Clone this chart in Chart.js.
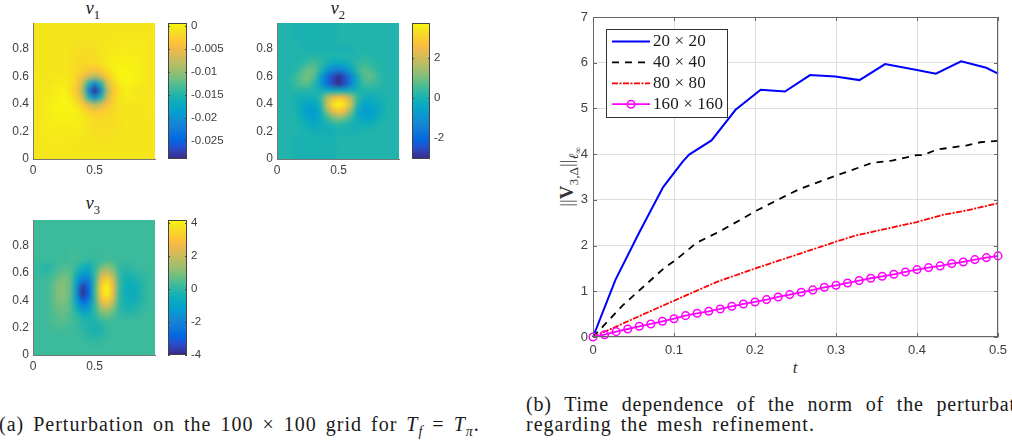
<!DOCTYPE html>
<html>
<head>
<meta charset="utf-8">
<title>Perturbation</title>
<script src="https://cdn.jsdelivr.net/npm/chart.js@4"></script>
<style>
  html, body { margin: 0; padding: 0; background: #fff; }
  #page { position: relative; width: 1012px; height: 441px; overflow: hidden; background: #fff; }
  canvas { position: absolute; }
  .math, .cap { position: absolute; font-family: "Liberation Serif", serif; color: #1a1a1a; white-space: nowrap; }
  .math sub { font-size: 70%; line-height: 0; }
  .title { font-size: 18px; transform: translateX(-50%); }
  .cap { font-size: 20px; }
  #ylab { font-size: 19px; transform: translate(-50%, -50%) rotate(-90deg); color: #333; }
  #xlab { font-size: 17px; transform: translateX(-50%); color: #333; }
</style>
</head>
<body>
<div id="page">
  <div class="math title" style="left:93px;top:-2px"><i>v</i><sub>1</sub></div>
  <div class="math title" style="left:338px;top:-2px"><i>v</i><sub>2</sub></div>
  <div class="math title" style="left:93px;top:193px"><i>v</i><sub>3</sub></div>
  <div class="math" id="ylab" style="left:567px;top:177px">||<b>V</b><sub>3,Δ</sub>||<sub><i>ℓ</i><sub>∞</sub></sub></div>
  <div class="math" id="xlab" style="left:795px;top:358px"><i>t</i></div>
  <div class="cap" style="left:-1px;top:413px;letter-spacing:1px;word-spacing:3px">(a) Perturbation on the 100 × 100 grid for <i>T<sub style="font-size:70%;line-height:0">f</sub></i> = <i>T<sub style="font-size:70%;line-height:0">π</sub></i>.</div>
  <div class="cap" style="left:526px;top:393px;letter-spacing:0.8px;word-spacing:7px">(b) Time dependence of the norm of the perturbation</div>
  <div class="cap" style="left:526px;top:413px;letter-spacing:1px;word-spacing:3px">regarding the mesh refinement.</div>
</div>

<script>
// ─── LINE CHART DATA ─────────────────────────────────────────
const tBlue = [0, 0.0157, 0.0277, 0.0569, 0.0866, 0.1105, 0.1187, 0.1463, 0.176, 0.207, 0.237, 0.268, 0.299, 0.329, 0.3606, 0.3998, 0.4233, 0.4545, 0.4855, 0.5];
const vBlue = [0, 0.71, 1.25, 2.28, 3.28, 3.83, 3.99, 4.30, 4.97, 5.41, 5.37, 5.73, 5.70, 5.62, 5.97, 5.84, 5.76, 6.03, 5.89, 5.76];
const tBlack = [0, 0.0363, 0.0886, 0.101, 0.1278, 0.1566, 0.204, 0.241, 0.2555, 0.3008, 0.344, 0.369, 0.3998, 0.408, 0.4245, 0.4616, 0.478, 0.5];
const vBlack = [0, 0.685, 1.52, 1.67, 2.06, 2.31, 2.785, 3.115, 3.24, 3.535, 3.805, 3.86, 3.98, 3.98, 4.10, 4.19, 4.26, 4.29];
const tRed = [0, 0.05, 0.1, 0.1545, 0.202, 0.243, 0.3008, 0.3236, 0.3998, 0.4327, 0.4616, 0.5];
const vRed = [0, 0.40, 0.794, 1.217, 1.51, 1.75, 2.09, 2.217, 2.515, 2.676, 2.77, 2.925];
const tMagenta = [0, 0.0143, 0.0286, 0.0429, 0.0571, 0.0714, 0.0857, 0.1, 0.1143, 0.1286, 0.1429, 0.1571, 0.1714, 0.1857, 0.2, 0.2143, 0.2286, 0.2429, 0.2571, 0.2714, 0.2857, 0.3, 0.3143, 0.3286, 0.3429, 0.3571, 0.3714, 0.3857, 0.4, 0.4143, 0.4286, 0.4429, 0.4571, 0.4714, 0.4857, 0.5];
const vMagenta = [0, 0.05, 0.117, 0.175, 0.234, 0.285, 0.343, 0.40, 0.467, 0.518, 0.562, 0.613, 0.672, 0.723, 0.766, 0.818, 0.876, 0.927, 0.978, 1.03, 1.088, 1.131, 1.182, 1.234, 1.285, 1.328, 1.372, 1.423, 1.474, 1.518, 1.555, 1.606, 1.642, 1.693, 1.737, 1.774];
const lineNames = ['20 × 20', '40 × 40', '80 × 80', '160 × 160'];
const tTicks = [0, 0.1, 0.2, 0.3, 0.4, 0.5];
const normTicks = [0, 1, 2, 3, 4, 5, 6, 7];

// ─── HEATMAP DATA (rows run from y = 1 down to y = 0) ────────
const gridX = [0, 0.05, 0.1, 0.15, 0.2, 0.25, 0.3, 0.35, 0.4, 0.45, 0.5, 0.55, 0.6, 0.65, 0.7, 0.75, 0.8, 0.85, 0.9, 0.95, 1];
const gridY = [1, 0.95, 0.9, 0.85, 0.8, 0.75, 0.7, 0.65, 0.6, 0.55, 0.5, 0.45, 0.4, 0.35, 0.3, 0.25, 0.2, 0.15, 0.1, 0.05, 0];
const heatXTicks = [0, 0.5];
const heatYTicks = [0, 0.2, 0.4, 0.6, 0.8];

// v1 is listed in units of 1e-3
const v1Rows = [
  [-.7,-.7,-.7,-.7,-.7,-.7,-.7,-.7,-.7,-.7,-.7,-.7,-.7,-.7,-.7,-.7,-.7,-.7,-.7,-.7,-.7],
  [-.7,-.7,-.7,-.7,-.7,-.7,-.7,-.7,-.7,-.7,-.7,-.7,-.7,-.7,-.7,-.7,-.7,-.7,-.7,-.7,-.7],
  [-.7,-.7,-.7,-.7,-.7,-.7,-.7,-.7,-.8,-.8,-.7,-.7,-.7,-.7,-.6,-.6,-.6,-.6,-.6,-.6,-.7],
  [-.7,-.7,-.7,-.7,-.7,-.7,-.8,-1.0,-1.1,-1.1,-1.0,-.8,-.7,-.6,-.5,-.5,-.5,-.5,-.5,-.6,-.7],
  [-.7,-.7,-.7,-.7,-.7,-.7,-.9,-1.2,-1.3,-1.3,-1.2,-.8,-.6,-.5,-.4,-.4,-.4,-.4,-.5,-.6,-.7],
  [-.7,-.7,-.7,-.7,-.7,-.7,-1.0,-1.4,-1.5,-1.5,-1.4,-.9,-.5,-.3,-.2,-.2,-.2,-.3,-.5,-.6,-.7],
  [-.6,-.7,-.7,-.7,-.7,-.7,-1.0,-1.5,-1.7,-1.8,-1.8,-1.0,-.4,-.1,0,0,0,-.2,-.4,-.6,-.7],
  [-.5,-.6,-.7,-.7,-.7,-.7,-.9,-1.6,-2.4,-3.2,-3.5,-2.7,-1.3,-.1,.2,.2,.1,-.1,-.4,-.6,-.7],
  [-.5,-.6,-.7,-.7,-.6,-.6,-.8,-2.4,-4.2,-7.0,-9.0,-6.5,-3.2,-1.0,.2,.3,.2,-.1,-.4,-.6,-.7],
  [-.5,-.6,-.7,-.6,-.4,-.3,-.7,-2.8,-7.0,-15,-21,-15,-6.5,-2.2,-.4,.2,0,-.3,-.5,-.6,-.7],
  [-.6,-.7,-.6,-.4,0,.1,-1.1,-3.5,-9.0,-21,-28.5,-21,-9.0,-3.5,-1.1,-.2,-.4,-.6,-.7,-.7,-.6],
  [-.7,-.6,-.5,-.3,0,.2,-.4,-2.2,-6.5,-15,-21,-15,-7.0,-2.8,-.7,-.3,-.4,-.6,-.7,-.6,-.5],
  [-.7,-.6,-.4,-.1,.2,.3,.2,-1.0,-3.2,-6.5,-9.0,-7.0,-4.2,-2.4,-.8,-.6,-.6,-.7,-.7,-.6,-.5],
  [-.7,-.6,-.4,-.1,.1,.2,.2,-.1,-1.3,-2.7,-3.5,-3.2,-2.4,-1.6,-.9,-.7,-.7,-.7,-.7,-.6,-.5],
  [-.7,-.6,-.4,-.2,0,0,0,-.1,-.4,-1.0,-1.8,-1.8,-1.7,-1.5,-1.0,-.7,-.7,-.7,-.7,-.7,-.6],
  [-.7,-.6,-.5,-.3,-.2,-.2,-.2,-.3,-.5,-.9,-1.4,-1.5,-1.5,-1.4,-1.0,-.7,-.7,-.7,-.7,-.7,-.7],
  [-.7,-.6,-.5,-.4,-.4,-.4,-.4,-.5,-.6,-.8,-1.2,-1.3,-1.3,-1.2,-.9,-.7,-.7,-.7,-.7,-.7,-.7],
  [-.7,-.6,-.5,-.5,-.5,-.5,-.5,-.6,-.7,-.8,-1.0,-1.1,-1.1,-1.0,-.8,-.7,-.7,-.7,-.7,-.7,-.7],
  [-.7,-.6,-.6,-.6,-.6,-.6,-.6,-.7,-.7,-.7,-.7,-.8,-.8,-.7,-.7,-.7,-.7,-.7,-.7,-.7,-.7],
  [-.7,-.7,-.7,-.7,-.7,-.7,-.7,-.7,-.7,-.7,-.7,-.7,-.7,-.7,-.7,-.7,-.7,-.7,-.7,-.7,-.7],
  [-.7,-.7,-.7,-.7,-.7,-.7,-.7,-.7,-.7,-.7,-.7,-.7,-.7,-.7,-.7,-.7,-.7,-.7,-.7,-.7,-.7]
];
const v2Rows = [
  [.1,.1,.1,0,0,0,0,0,0,0,.1,.1,.1,.1,.1,.1,.1,.1,.1,.1,.1],
  [.1,.1,.1,0,0,0,0,0,0,0,.1,.1,.1,.1,.1,.1,.1,.1,.1,.1,.1],
  [.1,.1,.1,0,0,0,0,0,0,0,.1,.1,.1,.1,.1,.1,.1,.1,.1,.1,.1],
  [.1,.1,.1,.1,0,0,0,0,0,0,.1,.1,.1,.1,.1,.1,.1,.1,.1,.1,.1],
  [.1,.1,.1,.1,.1,0,0,0,0,0,0,0,0,.1,.1,.1,.1,.1,.1,.1,.1],
  [.1,.1,.1,.1,.1,.1,.2,.2,.1,.1,.1,.1,.1,.1,.2,.2,.1,.1,.1,.1,.1],
  [.1,.1,.1,.1,.2,.4,.5,.3,0,-.3,-.3,-.3,0,.3,.4,.3,.2,.1,.1,.1,.1],
  [.1,.1,.1,.2,.5,.9,.8,.2,-.8,-1.3,-1.5,-1.2,-.5,.3,.7,.6,.3,.1,.1,.1,.1],
  [.1,.1,.1,.4,.8,1.0,.6,-.6,-1.8,-2.6,-3.0,-2.5,-1.4,-.2,.6,.8,.5,.2,.1,.1,.1],
  [.1,.1,.2,.4,.7,.7,.2,-.7,-1.8,-2.6,-3.0,-2.5,-1.4,-.3,.4,.5,.4,.2,.1,.1,.1],
  [.1,.1,.1,.2,.2,.1,.1,-.1,-.2,-.3,-.3,-.3,-.1,0,.1,.1,.1,.1,.1,.1,.1],
  [.1,.1,.1,0,-.1,-.1,-.1,.3,1.4,2.3,2.6,2.4,1.5,.4,-.1,-.2,-.1,0,.1,.1,.1],
  [.1,.1,.1,0,-.3,-.5,-.5,.1,1.8,3.3,3.7,3.3,2.0,.2,-.5,-.5,-.3,-.1,.1,.1,.1],
  [.1,.1,.1,0,-.4,-.8,-.8,-.3,1.1,2.4,2.8,2.4,1.1,-.3,-.8,-.8,-.5,-.1,.1,.1,.1],
  [.1,.1,.1,.1,-.2,-.5,-.7,-.3,.3,.9,1.2,.9,.3,-.2,-.5,-.5,-.3,0,.1,.1,.1],
  [.1,.1,.1,.1,0,-.2,-.3,-.2,-.1,.1,.2,.1,0,-.1,-.1,-.1,0,.1,.1,.1,.1],
  [.1,.1,.1,.1,0,0,-.1,-.1,-.1,-.1,0,0,0,0,.1,.1,.1,.1,.1,.1,.1],
  [.1,.1,.1,0,0,0,0,0,0,0,.1,.1,.1,.1,.1,.1,.1,.1,.1,.1,.1],
  [.1,.1,.1,0,0,0,0,0,0,0,.1,.1,.1,.1,.1,.1,.1,.1,.1,.1,.1],
  [.1,.1,.1,0,0,0,0,0,0,0,.1,.1,.1,.1,.1,.1,.1,.1,.1,.1,.1],
  [.1,.1,.1,0,0,0,0,0,0,0,.1,.1,.1,.1,.1,.1,.1,.1,.1,.1,.1]
];
const v3Rows = [
  [.2,.2,.2,.2,.2,.2,.2,.2,.2,.2,.2,.2,.2,.2,.2,.2,.2,.2,.2,.2,.2],
  [.2,.2,.2,.2,.2,.2,.2,.2,.2,.2,.2,.2,.2,.2,.2,.2,.2,.2,.2,.2,.2],
  [.2,.2,.2,.2,.2,.2,.2,.2,.2,.2,.2,.2,.2,.2,.2,.2,.2,.2,.2,.2,.2],
  [.2,.2,.2,.2,.2,.2,.2,.2,.2,.2,.2,.2,.2,.2,.2,.2,.2,.2,.2,.2,.2],
  [.2,.2,.2,.2,.2,.2,.2,.2,.2,.2,.2,.2,.2,.2,.2,.2,.2,.2,.2,.2,.2],
  [.2,.2,.2,.2,.2,.2,.3,.3,.2,.2,.2,.2,.3,.2,.2,.2,.2,.2,.2,.2,.2],
  [.2,.2,.2,.2,.2,.2,.3,.3,.2,.1,.1,.2,.3,.3,.2,.2,.2,.2,.2,.2,.2],
  [.2,.1,-.1,0,.3,.4,.4,.1,-.4,-.6,0,.7,1.1,.7,.1,0,.1,.2,.2,.2,.2],
  [.2,.1,0,.2,.5,.7,.6,-.3,-1.2,-1.3,.1,1.7,2.2,1.4,.1,-.2,-.1,0,.1,.2,.2],
  [.2,.2,.2,.4,.8,1.0,.7,-.9,-2.3,-2.2,.1,2.7,3.5,2.3,.2,-.4,-.4,-.2,0,.2,.2],
  [.2,.2,.2,.5,1.0,1.1,.7,-1.3,-3.7,-2.7,.2,3.3,4.1,2.6,.2,-.5,-.6,-.4,0,.2,.2],
  [.2,.2,.2,.5,1.0,1.1,.6,-1.4,-3.9,-2.8,.2,3.2,4.1,2.5,.1,-.5,-.6,-.4,0,.2,.2],
  [.2,.2,.2,.5,.9,1.0,.5,-1.1,-2.9,-2.2,.1,2.6,3.2,2.0,.1,-.4,-.5,-.3,0,.2,.2],
  [.2,.2,.2,.4,.8,.8,.5,-.5,-1.6,-1.3,.1,1.5,2.0,1.1,0,-.3,-.3,-.1,.1,.2,.2],
  [.2,.2,.2,.4,.6,.7,.4,0,-.6,-.5,0,.7,.9,.5,.1,0,0,.1,.2,.2,.2],
  [.2,.2,.2,.4,.5,.5,.4,.2,-.1,-.2,-.2,.1,.3,.2,.2,.2,.2,.2,.2,.2,.2],
  [.2,.2,.2,.3,.4,.3,.3,.2,0,-.2,-.3,-.2,.1,.2,.2,.2,.2,.2,.2,.2,.2],
  [.2,.2,.2,.2,.2,.2,.2,.2,.1,-.1,-.2,-.1,.1,.2,.2,.2,.2,.2,.2,.2,.2],
  [.2,.2,.2,.2,.2,.2,.2,.2,.2,.1,.1,.1,.2,.2,.2,.2,.2,.2,.2,.2,.2],
  [.2,.2,.2,.2,.2,.2,.2,.2,.2,.2,.2,.2,.2,.2,.2,.2,.2,.2,.2,.2,.2],
  [.2,.2,.2,.2,.2,.2,.2,.2,.2,.2,.2,.2,.2,.2,.2,.2,.2,.2,.2,.2,.2]
];

// colour limits and colourbar ticks
const v1Range = [-0.0289, 0.0006];
const v2Range = [-3.07, 3.73];
const v3Range = [-4.0, 4.2];
const v1BarTicks = [0, -0.005, -0.01, -0.015, -0.02, -0.025];
const v2BarTicks = [2, 0, -2];
const v3BarTicks = [4, 2, 0, -2, -4];

// ─── PARULA ──────────────────────────────────────────────────
const parula = [[53,42,135],[53,61,173],[32,83,212],[2,104,225],[13,117,220],[20,129,214],[16,142,210],[7,156,207],[6,167,198],[15,174,185],[37,181,169],[66,187,152],[101,190,134],[135,191,119],[165,190,107],[192,188,96],[217,186,86],[241,185,74],[255,195,55],[250,211,42],[245,228,29],[249,251,14]];

function parulaAt(f) {
    const p = Math.min(Math.max(f, 0), 1) * (parula.length - 1);
    const i = Math.min(Math.floor(p), parula.length - 2);
    const k = p - i;
    return parula[i].map((c, n) => Math.round(c + (parula[i + 1][n] - c) * k));
}

// ─── PLUGINS ─────────────────────────────────────────────────
// paints the cells of dataset 0 as one smoothed image placed by the chart's scales
const heatLayer = {
    id: 'heatLayer',
    beforeDatasetsDraw(chart, args, opts) {
        if (!opts.range) return;
        const cols = gridX.length, rows = gridY.length;
        const off = document.createElement('canvas');
        off.width = cols; off.height = rows;
        const octx = off.getContext('2d');
        const img = octx.createImageData(cols, rows);
        chart.data.datasets[0].data.forEach((cell, i) => {
            const rgb = parulaAt((cell.v - opts.range[0]) / (opts.range[1] - opts.range[0]));
            img.data.set([rgb[0], rgb[1], rgb[2], 255], i * 4);
        });
        octx.putImageData(img, 0, 0);
        const { x, y } = chart.scales, a = chart.chartArea, half = 0.025;
        const ctx = chart.ctx;
        ctx.save();
        ctx.beginPath();
        ctx.rect(a.left, a.top, a.right - a.left, a.bottom - a.top);
        ctx.clip();
        ctx.imageSmoothingEnabled = true;
        ctx.imageSmoothingQuality = 'low';
        const x0 = x.getPixelForValue(gridX[0] - half), x1 = x.getPixelForValue(gridX[cols - 1] + half);
        const y0 = y.getPixelForValue(gridY[0] + half), y1 = y.getPixelForValue(gridY[rows - 1] - half);
        // plain pass underneath so the blurred pass has no pale rim
        ctx.drawImage(off, x0, y0, x1 - x0, y1 - y0);
        ctx.filter = 'blur(1.3px)';
        ctx.drawImage(off, x0, y0, x1 - x0, y1 - y0);
        ctx.restore();
    }
};

// axes box with small inward ticks
const frameBox = {
    id: 'frameBox',
    afterDatasetsDraw(chart, args, opts) {
        if (!opts.color) return;
        const ctx = chart.ctx, a = chart.chartArea, len = opts.tick;
        ctx.save();
        ctx.strokeStyle = opts.color;
        ctx.lineWidth = 1;
        ctx.strokeRect(Math.round(a.left) + .5, Math.round(a.top) + .5, Math.round(a.right - a.left) - 1, Math.round(a.bottom - a.top) - 1);
        ctx.beginPath();
        chart.scales.y.ticks.forEach(t => {
            const py = Math.round(chart.scales.y.getPixelForValue(t.value)) + .5;
            ctx.moveTo(a.left, py); ctx.lineTo(a.left + len, py);
            ctx.moveTo(a.right, py); ctx.lineTo(a.right - len, py);
        });
        if (chart.scales.x.type === 'linear') {
            chart.scales.x.ticks.forEach(t => {
                const px = Math.round(chart.scales.x.getPixelForValue(t.value)) + .5;
                ctx.moveTo(px, a.top); ctx.lineTo(px, a.top + len);
                ctx.moveTo(px, a.bottom); ctx.lineTo(px, a.bottom - len);
            });
        }
        ctx.stroke();
        ctx.restore();
    }
};

// legend box inside the axes
const insideLegend = {
    id: 'insideLegend',
    afterDatasetsDraw(chart, args, opts) {
        if (!opts.box) return;
        const ctx = chart.ctx, b = opts.box;
        ctx.save();
        ctx.fillStyle = '#fff';
        ctx.strokeStyle = '#333';
        ctx.lineWidth = 1;
        ctx.fillRect(b.x, b.y, b.w, b.h);
        ctx.strokeRect(b.x + .5, b.y + .5, b.w, b.h);
        ctx.font = opts.font;
        ctx.textBaseline = 'middle';
        chart.data.datasets.forEach((ds, i) => {
            const py = b.y + opts.first + i * opts.step;
            ctx.beginPath();
            ctx.strokeStyle = ds.borderColor;
            ctx.lineWidth = ds.borderWidth;
            ctx.setLineDash(ds.borderDash || []);
            ctx.moveTo(b.x + 6, py);
            ctx.lineTo(b.x + 44, py);
            ctx.stroke();
            ctx.setLineDash([]);
            if (ds.pointRadius) {
                ctx.beginPath();
                ctx.lineWidth = ds.pointBorderWidth;
                ctx.arc(b.x + 25, py, ds.pointRadius, 0, Math.PI * 2);
                ctx.stroke();
            }
            ctx.fillStyle = '#1a1a1a';
            ctx.letterSpacing = opts.spacing;
            ctx.fillText(ds.label, b.x + 47, py + 0.5);
        });
        ctx.restore();
    }
};
Chart.register(heatLayer, frameBox, insideLegend);

// ─── HELPERS ─────────────────────────────────────────────────
const tickColor = '#404040';

function mount(area, pad) {
    const c = document.createElement('canvas');
    c.width = area.w + pad.l + pad.r;
    c.height = area.h + pad.t + pad.b;
    c.style.left = (area.x - pad.l) + 'px';
    c.style.top = (area.y - pad.t) + 'px';
    c.style.width = c.width + 'px';
    c.style.height = c.height + 'px';
    document.getElementById('page').appendChild(c);
    return c;
}

function fixedAxis(values, size, font, pad, extra) {
    return Object.assign({
        type: 'linear',
        afterBuildTicks: s => { s.ticks = values.map(v => ({ value: v })); },
        afterFit: s => {
            if (s.isHorizontal()) s.height = size; else s.width = size;
            s.paddingTop = s.paddingBottom = s.paddingLeft = s.paddingRight = 0;
        },
        grid: { display: false, drawTicks: false },
        border: { display: false },
        ticks: { color: tickColor, font: { family: 'Liberation Sans', size: font }, padding: pad, maxRotation: 0, autoSkip: false, callback: v => String(v) }
    }, extra);
}

function drawHeat(area, rows, range, scaleBy) {
    const pad = { l: 30, r: 8, t: 2, b: 20 };
    const cells = [];
    gridY.forEach((y, r) => gridX.forEach((x, c) => cells.push({ x, y, v: rows[r][c] * scaleBy })));
    const edge = { display: true, color: '#777', width: 1, z: 1 };
    new Chart(mount(area, pad), {
        type: 'scatter',
        data: { datasets: [{ data: cells, pointRadius: 0 }] },
        options: {
            responsive: false, animation: false, events: [],
            layout: { padding: { top: pad.t, right: pad.r } },
            plugins: { legend: { display: false }, tooltip: { enabled: false }, heatLayer: { range } },
            scales: {
                x: fixedAxis(heatXTicks, pad.b, 12, 4, { min: 0, max: 0.99, border: edge }),
                y: fixedAxis(heatYTicks, pad.l, 12, 4, { min: 0, max: 0.99, border: edge })
            }
        }
    });
}

function drawBar(area, range, ticks, labelWidth) {
    const pad = { l: 0, r: labelWidth, t: 8, b: 8 };
    new Chart(mount(area, pad), {
        type: 'bar',
        data: {
            labels: [''],
            datasets: [{
                data: [range],
                barPercentage: 1,
                categoryPercentage: 1,
                backgroundColor: ctx => {
                    const { chart } = ctx;
                    if (!chart.chartArea) return '#000';
                    const y = chart.scales.y;
                    const g = chart.ctx.createLinearGradient(0, y.getPixelForValue(range[0]), 0, y.getPixelForValue(range[1]));
                    parula.forEach((c, i) => g.addColorStop(i / (parula.length - 1), `rgb(${c})`));
                    return g;
                }
            }]
        },
        options: {
            responsive: false, animation: false, events: [],
            layout: { padding: { top: pad.t, bottom: pad.b } },
            plugins: { legend: { display: false }, tooltip: { enabled: false }, frameBox: { color: '#444', tick: 2 } },
            scales: {
                x: { display: false },
                y: fixedAxis(ticks, pad.r, 11.5, 4, { position: 'right', min: range[0], max: range[1] })
            }
        }
    });
}

function toPoints(ts, vs) { return ts.map((t, i) => ({ x: t, y: vs[i] })); }

// ─── CHARTS ──────────────────────────────────────────────────
drawHeat({ x: 33, y: 23, w: 122, h: 136 }, v1Rows, v1Range, 0.001);
drawHeat({ x: 277, y: 23, w: 122, h: 136 }, v2Rows, v2Range, 1);
drawHeat({ x: 33, y: 220, w: 122, h: 135 }, v3Rows, v3Range, 1);
drawBar({ x: 168, y: 23, w: 19, h: 136 }, v1Range, v1BarTicks, 46);
drawBar({ x: 412, y: 23, w: 18, h: 136 }, v2Range, v2BarTicks, 30);
drawBar({ x: 168, y: 220, w: 19, h: 135 }, v3Range, v3BarTicks, 30);

const gridStyle = { display: true, color: '#dedede', lineWidth: 1, drawTicks: false };
const linePad = { l: 40, r: 14, t: 8, b: 24 };
new Chart(mount({ x: 593, y: 17, w: 405, h: 320 }, linePad), {
    type: 'scatter',
    data: {
        datasets: [
            { label: lineNames[0], data: toPoints(tBlue, vBlue), borderColor: '#0000ff', borderWidth: 2, pointRadius: 0, order: 4 },
            { label: lineNames[1], data: toPoints(tBlack, vBlack), borderColor: '#000', borderWidth: 1.8, borderDash: [7, 6], pointRadius: 0, order: 3 },
            { label: lineNames[2], data: toPoints(tRed, vRed), borderColor: '#ff0000', borderWidth: 1.8, borderDash: [6, 1.5, 2, 1.5], pointRadius: 0, order: 2 },
            { label: lineNames[3], data: toPoints(tMagenta, vMagenta), borderColor: '#ff00ff', borderWidth: 1.8, pointRadius: 3.8, pointBorderWidth: 1.5, pointBorderColor: '#ff00ff', pointBackgroundColor: 'rgba(0,0,0,0)', order: 1 }
        ].map(ds => Object.assign(ds, { showLine: true, tension: 0, fill: false, clip: false }))
    },
    options: {
        responsive: false, animation: false, events: [],
        layout: { padding: { top: linePad.t, right: linePad.r } },
        plugins: {
            legend: { display: false },
            tooltip: { enabled: false },
            frameBox: { color: '#666', tick: 4 },
            insideLegend: { box: { x: 606 - 553, y: 29 - 9, w: 121, h: 88 }, first: 12.5, step: 20.9, font: '17px "Liberation Serif"', spacing: '0.1px' }
        },
        scales: {
            x: fixedAxis(tTicks, linePad.b, 13, 6, { min: 0, max: 0.5, grid: gridStyle }),
            y: fixedAxis(normTicks, linePad.l, 13, 5, { min: 0, max: 7, grid: gridStyle })
        }
    }
});
</script>
</body>
</html>
